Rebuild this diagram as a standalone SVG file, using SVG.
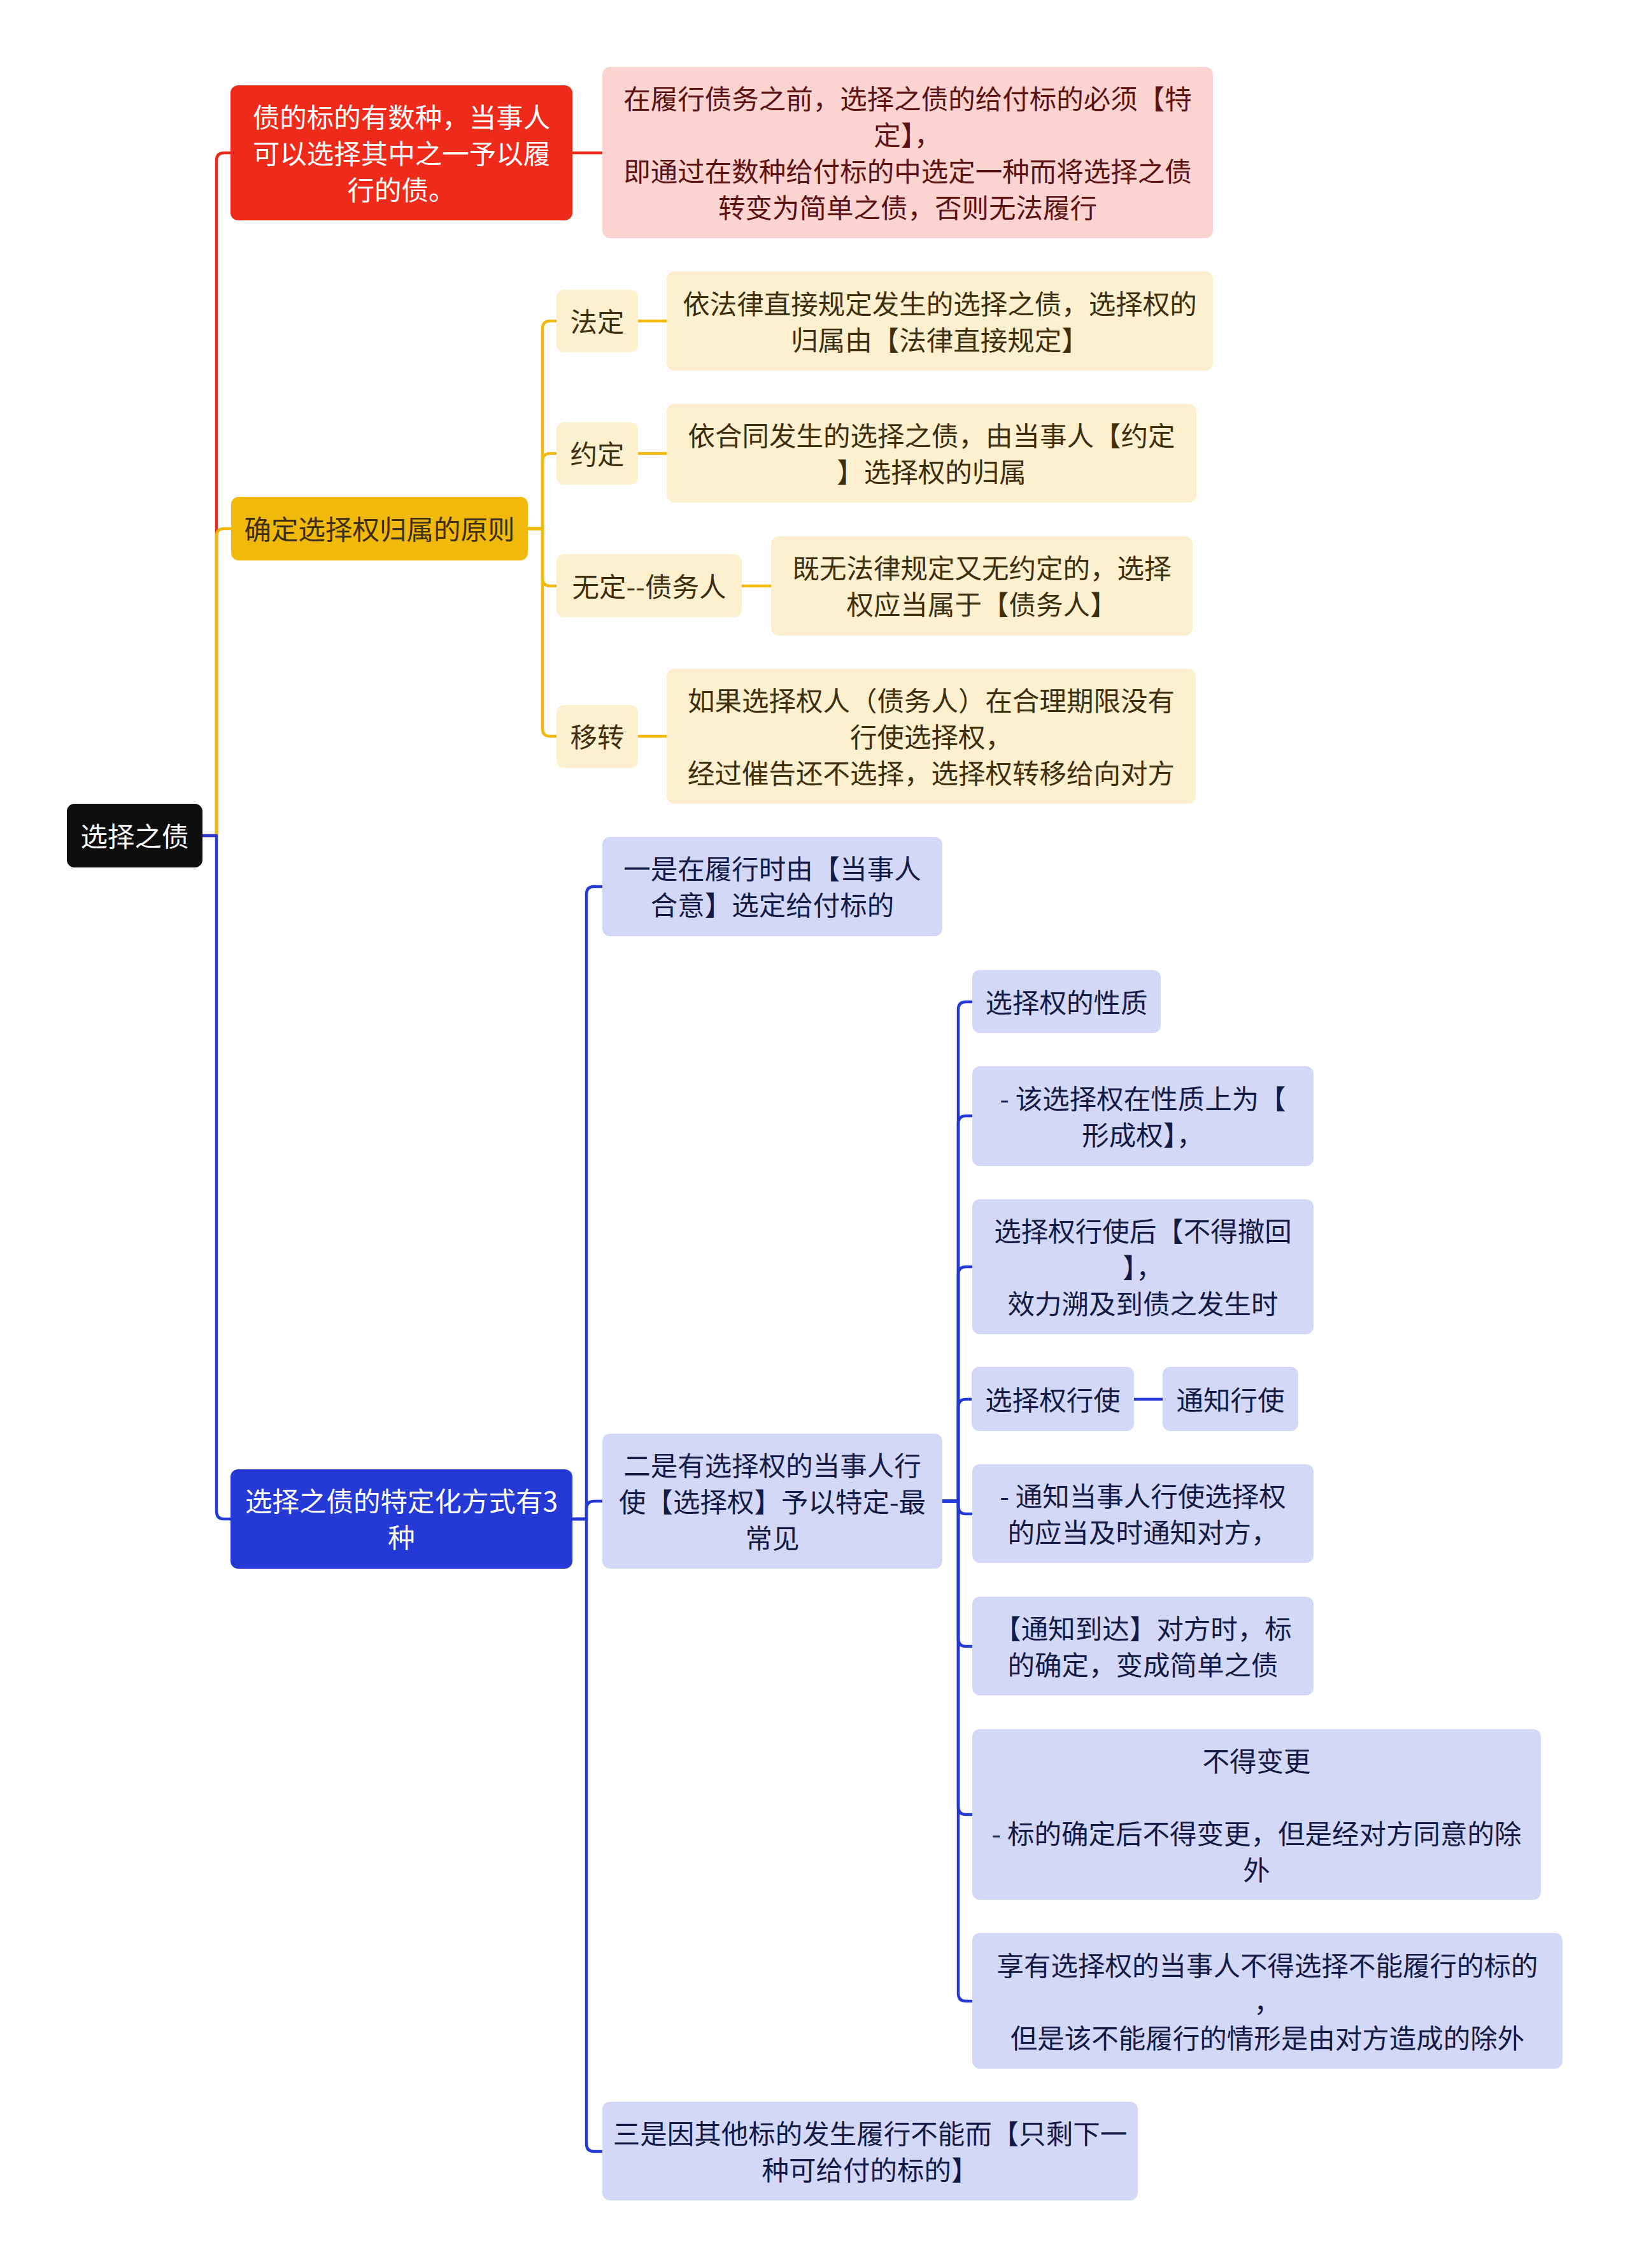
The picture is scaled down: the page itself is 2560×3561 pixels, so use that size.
<svg xmlns="http://www.w3.org/2000/svg" width="2560" height="3561" viewBox="0 0 2560 3561">
<style>
  text { font-family: "Noto Sans CJK SC", "Noto Sans", sans-serif; font-size: 42.5px; text-anchor: middle; dominant-baseline: central; transform: translateY(-2px); }
  .tw { fill: #ffffff; }
  .tp { fill: #5b1212; }
  .ty { fill: #3d2e0c; }
  .tb { fill: #131a45; }
  .f-root { fill: #0e0e0e; }
  .f-red { fill: #ee2a1a; }
  .f-pink { fill: #fbd3d1; }
  .f-yel { fill: #f0b90b; }
  .f-yl { fill: #fcf0cf; }
  .f-blue { fill: #2439d6; }
  .f-bl { fill: #d4d8f7; }
  .c { fill: none; stroke-width: 4.5; stroke-linejoin: round; stroke-linecap: butt; }
  .cr { stroke: #e8281a; }
  .cy { stroke: #f0b90b; }
  .cb { stroke: #2439d6; }
</style>
<rect width="2560" height="3561" fill="#ffffff"/>

<g id="connectors">
  <path class="c cr" d="M318,1312 H340 V252 Q340,240 352,240 H362"/>
  <path class="c cy" d="M318,1312 H340 V842 Q340,830 352,830 H363"/>
  <path class="c cb" d="M318,1312 H340 V2373 Q340,2385 352,2385 H362"/>
  <path class="c cr" d="M899,240 H946"/>
  <path class="c cy" d="M829,830 H852 V516 Q852,504 864,504 H874"/>
  <path class="c cy" d="M829,830 H852 V724 Q852,712 864,712 H874"/>
  <path class="c cy" d="M829,830 H852 V908 Q852,920 864,920 H874"/>
  <path class="c cy" d="M829,830 H852 V1144 Q852,1156 864,1156 H874"/>
  <path class="c cy" d="M1002,504 H1047"/>
  <path class="c cy" d="M1002,712 H1047"/>
  <path class="c cy" d="M1165,920 H1211"/>
  <path class="c cy" d="M1002,1156 H1047"/>
  <path class="c cb" d="M899,2385 H921 V1404 Q921,1392 933,1392 H946"/>
  <path class="c cb" d="M899,2385 H921 V2369 Q921,2357 933,2357 H946"/>
  <path class="c cb" d="M899,2385 H921 V3366 Q921,3378 933,3378 H946"/>
  <path class="c cb" d="M1480,2357 H1505 V1585 Q1505,1573 1517,1573 H1527"/>
  <path class="c cb" d="M1480,2357 H1505 V1764 Q1505,1752 1517,1752 H1527"/>
  <path class="c cb" d="M1480,2357 H1505 V2001 Q1505,1989 1517,1989 H1527"/>
  <path class="c cb" d="M1480,2357 H1505 V2209 Q1505,2197 1517,2197 H1526"/>
  <path class="c cb" d="M1480,2357 H1505 V2365 Q1505,2377 1517,2377 H1527"/>
  <path class="c cb" d="M1480,2357 H1505 V2573 Q1505,2585 1517,2585 H1527"/>
  <path class="c cb" d="M1480,2357 H1505 V2837 Q1505,2849 1517,2849 H1527"/>
  <path class="c cb" d="M1480,2357 H1505 V3130 Q1505,3142 1517,3142 H1527"/>
  <path class="c cb" d="M1781,2197 H1826"/>
</g>

<g id="root">
  <rect class="f-root" x="105" y="1262" width="213" height="100" rx="12"/>
  <text class="tw" x="211.5" y="1312">选择之债</text>
</g>

<g id="n-red">
  <rect class="f-red" x="362" y="134" width="537" height="212" rx="12"/>
  <text class="tw"><tspan x="630.5" y="183">债的标的有数种，当事人</tspan><tspan x="630.5" y="240">可以选择其中之一予以履</tspan><tspan x="630.5" y="297">行的债。</tspan></text>
</g>

<g id="n-pink">
  <rect class="f-pink" x="946" y="105" width="959" height="269" rx="12"/>
  <text class="tp"><tspan x="1425.5" y="154">在履行债务之前，选择之债的给付标的必须【特</tspan><tspan x="1425.5" y="211">定】，</tspan><tspan x="1425.5" y="268">即通过在数种给付标的中选定一种而将选择之债</tspan><tspan x="1425.5" y="325">转变为简单之债，否则无法履行</tspan></text>
</g>

<g id="n-yellow">
  <rect class="f-yel" x="363" y="780" width="466" height="100" rx="12"/>
  <text class="ty" x="596" y="830">确定选择权归属的原则</text>
</g>

<g id="n-fading">
  <rect class="f-yl" x="874" y="455" width="128" height="98" rx="12"/>
  <text class="ty" x="938" y="504">法定</text>
</g>
<g id="n-fading-desc">
  <rect class="f-yl" x="1047" y="426" width="858" height="156" rx="12"/>
  <text class="ty"><tspan x="1476" y="476">依法律直接规定发生的选择之债，选择权的</tspan><tspan x="1476" y="533">归属由【法律直接规定】</tspan></text>
</g>

<g id="n-yueding">
  <rect class="f-yl" x="874" y="663" width="128" height="98" rx="12"/>
  <text class="ty" x="938" y="712">约定</text>
</g>
<g id="n-yueding-desc">
  <rect class="f-yl" x="1047" y="634" width="832" height="155" rx="12"/>
  <text class="ty"><tspan x="1463" y="683">依合同发生的选择之债，由当事人【约定</tspan><tspan x="1463" y="740">】选择权的归属</tspan></text>
</g>

<g id="n-wuding">
  <rect class="f-yl" x="874" y="870" width="291" height="99" rx="12"/>
  <text class="ty" x="1019.5" y="920">无定--债务人</text>
</g>
<g id="n-wuding-desc">
  <rect class="f-yl" x="1211" y="842" width="662" height="156" rx="12"/>
  <text class="ty"><tspan x="1542" y="891">既无法律规定又无约定的，选择</tspan><tspan x="1542" y="948">权应当属于【债务人】</tspan></text>
</g>

<g id="n-yizhuan">
  <rect class="f-yl" x="874" y="1107" width="128" height="99" rx="12"/>
  <text class="ty" x="938" y="1156">移转</text>
</g>
<g id="n-yizhuan-desc">
  <rect class="f-yl" x="1047" y="1050" width="831" height="212" rx="12"/>
  <text class="ty"><tspan x="1462.5" y="1099">如果选择权人（债务人）在合理期限没有</tspan><tspan x="1462.5" y="1156">行使选择权，</tspan><tspan x="1462.5" y="1213">经过催告还不选择，选择权转移给向对方</tspan></text>
</g>

<g id="n-blue">
  <rect class="f-blue" x="362" y="2307" width="537" height="156" rx="12"/>
  <text class="tw"><tspan x="630.5" y="2356">选择之债的特定化方式有3</tspan><tspan x="630.5" y="2413">种</tspan></text>
</g>

<g id="n-one">
  <rect class="f-bl" x="946" y="1314" width="534" height="156" rx="12"/>
  <text class="tb"><tspan x="1213" y="1363">一是在履行时由【当事人</tspan><tspan x="1213" y="1420">合意】选定给付标的</tspan></text>
</g>

<g id="n-two">
  <rect class="f-bl" x="946" y="2251" width="534" height="212" rx="12"/>
  <text class="tb"><tspan x="1213" y="2300">二是有选择权的当事人行</tspan><tspan x="1213" y="2357">使【选择权】予以特定-最</tspan><tspan x="1213" y="2414">常见</tspan></text>
</g>

<g id="n-three">
  <rect class="f-bl" x="946" y="3300" width="841" height="155" rx="12"/>
  <text class="tb"><tspan x="1366.5" y="3349">三是因其他标的发生履行不能而【只剩下一</tspan><tspan x="1366.5" y="3406">种可给付的标的】</tspan></text>
</g>

<g id="n-xingzhi">
  <rect class="f-bl" x="1527" y="1523" width="296" height="99" rx="12"/>
  <text class="tb" x="1675" y="1573">选择权的性质</text>
</g>

<g id="n-xingchengquan">
  <rect class="f-bl" x="1527" y="1674" width="536" height="157" rx="12"/>
  <text class="tb"><tspan x="1795" y="1724">- 该选择权在性质上为【</tspan><tspan x="1795" y="1781">形成权】，</tspan></text>
</g>

<g id="n-budechehui">
  <rect class="f-bl" x="1527" y="1883" width="536" height="212" rx="12"/>
  <text class="tb"><tspan x="1795" y="1932">选择权行使后【不得撤回</tspan><tspan x="1795" y="1989">】，</tspan><tspan x="1795" y="2046">效力溯及到债之发生时</tspan></text>
</g>

<g id="n-xingshi">
  <rect class="f-bl" x="1526" y="2146" width="255" height="101" rx="12"/>
  <text class="tb" x="1653.5" y="2197">选择权行使</text>
</g>

<g id="n-tongzhixingshi">
  <rect class="f-bl" x="1826" y="2146" width="213" height="101" rx="12"/>
  <text class="tb" x="1932.5" y="2197">通知行使</text>
</g>

<g id="n-tongzhi">
  <rect class="f-bl" x="1527" y="2299" width="536" height="155" rx="12"/>
  <text class="tb"><tspan x="1795" y="2348">- 通知当事人行使选择权</tspan><tspan x="1795" y="2405">的应当及时通知对方，</tspan></text>
</g>

<g id="n-daoda">
  <rect class="f-bl" x="1527" y="2507" width="536" height="155" rx="12"/>
  <text class="tb"><tspan x="1795" y="2556">【通知到达】对方时，标</tspan><tspan x="1795" y="2613">的确定，变成简单之债</tspan></text>
</g>

<g id="n-budebiangeng">
  <rect class="f-bl" x="1527" y="2715" width="893" height="268" rx="12"/>
  <text class="tb"><tspan x="1973.5" y="2764">不得变更</tspan><tspan x="1973.5" y="2878">- 标的确定后不得变更，但是经对方同意的除</tspan><tspan x="1973.5" y="2935">外</tspan></text>
</g>

<g id="n-xiangyou">
  <rect class="f-bl" x="1527" y="3035" width="927" height="213" rx="12"/>
  <text class="tb"><tspan x="1990.5" y="3085">享有选择权的当事人不得选择不能履行的标的</tspan><tspan x="1990.5" y="3142">，</tspan><tspan x="1990.5" y="3199">但是该不能履行的情形是由对方造成的除外</tspan></text>
</g>
</svg>
